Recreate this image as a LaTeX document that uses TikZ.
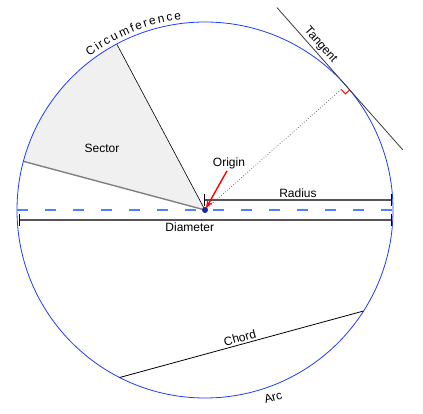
\documentclass[tikz,border=0pt]{standalone}
\usepackage{fontspec}
\setmainfont{Liberation Sans}
\usepackage{tikz}
\usetikzlibrary{calc}
\usetikzlibrary{arrows.meta}
\usetikzlibrary{positioning}
\usetikzlibrary{decorations.text}
\definecolor{circleblue}{RGB}{30, 60, 255}
\definecolor{dashblue}{RGB}{80, 130, 255}
\definecolor{dimgray}{RGB}{85, 85, 85}
\definecolor{sectorgray}{RGB}{240, 240, 240}
\definecolor{edgegray}{RGB}{128, 128, 128}
\definecolor{tangentgray}{RGB}{60, 60, 60}
\definecolor{origindot}{RGB}{20, 40, 160}
\tikzset{
    dimline/.style={dimgray, line width=1.6pt,
        {Bar[width=12pt, line width=0.9pt, black]}-{Bar[width=12pt, line width=0.9pt, black]}},
    pointer/.style={red, line width=1.4pt, -{Stealth[length=8pt, width=6pt]}},
    lbl/.style={inner sep=2pt, text=black}
}
\begin{document}
\begin{tikzpicture}[x=1pt, y=1pt, font=\fontsize{12}{14}\selectfont]
            % Frame to ensure alignment:
            \useasboundingbox                                             (-205,-204) rectangle (218, 210);
            \coordinate (O)    at (0, 0);
            \coordinate (secA) at (118:188);
            \coordinate (secB) at (165:188);
            \coordinate (T)    at (41.5:188);
            \coordinate (A)    at ($(T)+(221.5:6)$);
            \coordinate (chL)  at (-117:188);
            \coordinate (chR)  at (-32.5:188);
            \coordinate (radL) at (-1, 10);
            \coordinate (radR) at (187, 10);
            \coordinate (diaL) at (-186, -10);
            \coordinate (diaR) at (187, -10);
            % Sector:
            \fill[sectorgray]              (O) -- (secA) arc[start angle=118, end angle=165, radius=188] -- cycle;
            \draw[black, line width=0.6pt] (O) -- (secA);
            \draw[edgegray, line width=1.4pt] (O) -- (secB);
            \node[lbl] (sector) at (-103, 62) {Sector};
            % Circle:
            \draw[circleblue, line width=0.8pt] (O) circle (188);
            \path[decorate, decoration={text effects along path, text={Circumference}, text align=center,
                 text effects/.cd, text along path, fit text to path}]
                                                                          (127:192) arc[start angle=127, end angle=97, radius=192];
            \node[lbl, rotate=16] (arc) at (-70:199) {Arc};
            % Diameter and radius:
            \draw[dashblue, line width=1.6pt, dash pattern=on 11pt off 17pt] (-188, 0) -- (188, 0);
            \draw[dimline] (radL) -- (radR) node[lbl, midway, above] (radius) {Radius};
            \draw[dimline] (diaL) -- (diaR) node[lbl, pos=0.458, below] (diameter) {Diameter};
            % Chord:
            \draw[black, line width=0.8pt] (chL) -- (chR) node[lbl, midway, above, sloped] (chord) {Chord};
            % Tangent:
            \draw[tangentgray, line width=0.8pt] ($(T)+(131.5:104)$) -- ($(T)+(-48.5:86)$)
                 node[lbl, pos=0.3, above, sloped] (tangent) {Tangent};
            \draw[dimgray, line width=0.7pt, dotted] (O) -- (A);
            \draw[red, line width=0.9pt] (A) -- ($(A)+(-48.5:6)$) -- ($(T)+(-48.5:6)$);
            % Origin:
            \node[lbl] (origin) at (24, 47) {Origin};
            \draw[pointer, shorten >=2pt] ([xshift=-2pt]origin.south) -- (O);
            \fill[origindot] (O) circle (3);
        \end{tikzpicture}
\end{document}
